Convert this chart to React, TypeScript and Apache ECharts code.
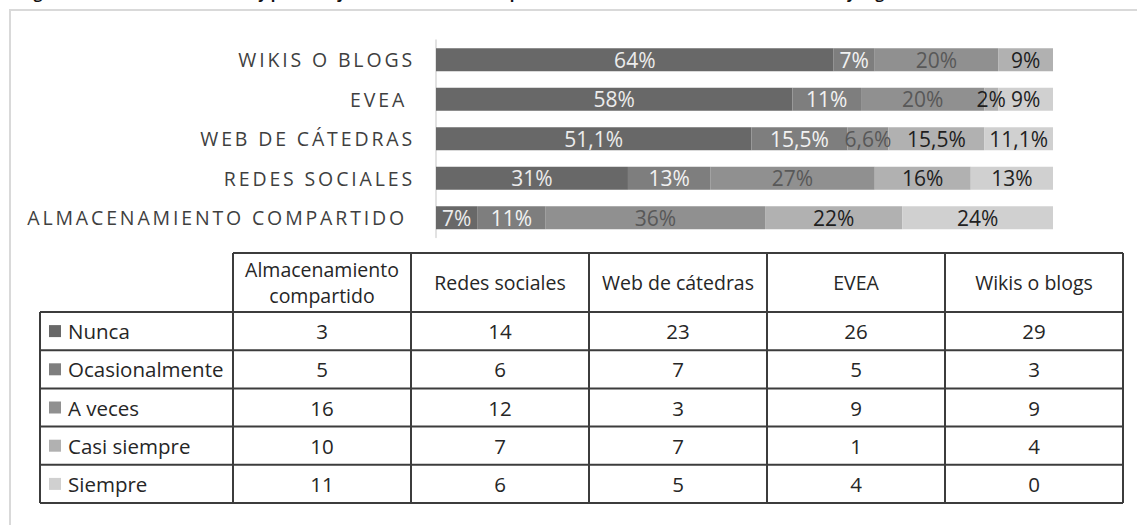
import React, { useEffect, useRef } from 'react';
import * as echarts from 'echarts';

// ---- Data ----
const categories = ['ALMACENAMIENTO COMPARTIDO ', 'REDES SOCIALES', 'WEB DE CÁTEDRAS', 'EVEA ', 'WIKIS O BLOGS'];
const tableHeaders = ['Almacenamiento\ncompartido', 'Redes sociales', 'Web de cátedras', 'EVEA', 'Wikis o blogs'];
const seriesNames = ['Nunca', 'Ocasionalmente', 'A veces', 'Casi siempre', 'Siempre'];

const nunca = [3, 14, 23, 26, 29];
const ocasionalmente = [5, 6, 7, 5, 3];
const aVeces = [16, 12, 3, 9, 9];
const casiSiempre = [10, 7, 7, 1, 4];
const siempre = [11, 6, 5, 4, 0];

const nuncaPct = ['7%', '31%', '51,1%', '58%', '64%'];
const ocasionalmentePct = ['11%', '13%', '15,5%', '11%', '7%'];
const aVecesPct = ['36%', '27%', '6,6%', '20%', '20%'];
const casiSiemprePct = ['22%', '16%', '15,5%', '2%', '9%'];
const siemprePct = ['24%', '13%', '11,1%', '9%', ''];

const titleText =
  'Figura 5. Frecuencias absolutas y porcentajes de uso de entornos para intercambio de actividades académicas y según frecuencia';

// ---- Styles ----
const seriesColors = ['#686868', '#7e7e7e', '#909090', '#b1b1b1', '#d0d0d0'];
const labelColors = ['#ececec', '#f2f2f2', '#585858', '#1e1e1e', '#222222'];
const FONT = '"Open Sans", "Noto Sans", sans-serif';

export default function App() {
  const ref = useRef<HTMLDivElement>(null);

  useEffect(() => {
    if (!ref.current) return;
    const chart = echarts.init(ref.current, undefined, { renderer: 'svg' });

    const seriesData = [nunca, ocasionalmente, aVeces, casiSiempre, siempre];
    const pctLabels = [nuncaPct, ocasionalmentePct, aVecesPct, casiSiemprePct, siemprePct];
    const totals = categories.map((_, c) => seriesData.reduce((s, arr) => s + arr[c], 0));
    const maxTotal = Math.max(...totals);

    // table geometry
    const tableLeft = 40;
    const firstColW = 193;
    const colW = 178;
    const headTop = 253;
    const headH = 59;
    const rowH = 38.2;
    const xs: number[] = [tableLeft, tableLeft + firstColW];
    for (let j = 0; j < tableHeaders.length; j++) xs.push(xs[xs.length - 1] + colW);
    const bodyTop = headTop + headH;
    const bodyBottom = bodyTop + rowH * seriesNames.length;
    const lineStyle = { stroke: '#3c3c3c', lineWidth: 2 };
    const cellFont = `20.5px ${FONT}`;
    const headFont = `19.5px ${FONT}`;

    const graphics: any[] = [];
    // outer frame
    graphics.push({
      type: 'rect',
      z: 0,
      shape: { x: 10, y: 10, width: 1300, height: 700 },
      style: { fill: 'none', stroke: '#d9d9d9', lineWidth: 2 },
      silent: true,
    });
    // clipped title (cut at the top edge, as in the source image)
    graphics.push({
      type: 'text',
      x: 21,
      y: -7,
      style: {
        text: titleText,
        font: 'bold 15px "Open Sans", sans-serif',
        fill: '#111',
        textAlign: 'left',
        textVerticalAlign: 'middle',
      },
      silent: true,
    });
    // header top line
    graphics.push({ type: 'line', shape: { x1: xs[1], y1: headTop, x2: xs[xs.length - 1], y2: headTop }, style: lineStyle, silent: true });
    // horizontal lines
    for (let r = 0; r <= seriesNames.length; r++) {
      const y = bodyTop + r * rowH;
      graphics.push({ type: 'line', shape: { x1: xs[0], y1: y, x2: xs[xs.length - 1], y2: y }, style: lineStyle, silent: true });
    }
    // vertical lines
    xs.forEach((x, k) => {
      graphics.push({
        type: 'line',
        shape: { x1: x, y1: k === 0 ? bodyTop : headTop, x2: x, y2: bodyBottom },
        style: lineStyle,
        silent: true,
      });
    });
    // header texts
    tableHeaders.forEach((h, j) => {
      graphics.push({
        type: 'text',
        x: (xs[j + 1] + xs[j + 2]) / 2,
        y: headTop + headH / 2,
        style: {
          text: h,
          font: headFont,
          fill: '#262626',
          textAlign: 'center',
          textVerticalAlign: 'middle',
          lineHeight: 26,
        },
        silent: true,
      });
    });
    // body rows
    seriesNames.forEach((name, i) => {
      const cy = bodyTop + rowH * i + rowH / 2;
      graphics.push({
        type: 'rect',
        shape: { x: xs[0] + 9, y: cy - 6, width: 12, height: 12 },
        style: { fill: seriesColors[i] },
        silent: true,
      });
      graphics.push({
        type: 'text',
        x: xs[0] + 28,
        y: cy,
        style: { text: name, font: cellFont, fill: '#262626', textAlign: 'left', textVerticalAlign: 'middle' },
        silent: true,
      });
      seriesData[i].forEach((v, c) => {
        graphics.push({
          type: 'text',
          x: (xs[c + 1] + xs[c + 2]) / 2,
          y: cy,
          style: { text: String(v), font: cellFont, fill: '#262626', textAlign: 'center', textVerticalAlign: 'middle' },
          silent: true,
        });
      });
    });

    const option: any = {
      animation: false,
      backgroundColor: '#ffffff',
      grid: { left: 436, right: 84, top: 40, height: 197.5, containLabel: false, outerBoundsMode: 'none' },
      xAxis: { type: 'value', min: 0, max: maxTotal, show: false },
      yAxis: {
        type: 'category',
        data: categories,
        axisLine: { show: true, lineStyle: { color: '#d9d9d9', width: 1.5 } },
        axisTick: { show: false },
        splitLine: { show: false },
        axisLabel: {
          margin: 21,
          color: '#3f3f3f',
          fontFamily: FONT,
          fontSize: 19.5,
          formatter: (v: string) => v.replace(/ $/, '\u00a0'),
        },
      },
      series: seriesNames.map((name, i) => ({
        name,
        type: 'bar',
        stack: 'total',
        barWidth: 23,
        data: seriesData[i],
        itemStyle: { color: seriesColors[i] },
        silent: true,
        emphasis: { disabled: true },
        label: {
          show: true,
          position: 'inside',
          formatter: (p: any) => pctLabels[i][p.dataIndex],
          color: labelColors[i],
          fontFamily: FONT,
          fontSize: 21,
          textBorderWidth: 0,
        },
      })),
      graphic: graphics,
    };
    chart.setOption(option);
    return () => chart.dispose();
  }, []);

  return (
    <>
      <style>{`.chart-root svg text[text-anchor="end"] { letter-spacing: 2.85px; }`}</style>
      <div
        ref={ref}
        className="chart-root"
        style={{ position: 'fixed', left: 0, top: 0, width: 1137, height: 525, background: '#fff' }}
      />
    </>
  );
}
